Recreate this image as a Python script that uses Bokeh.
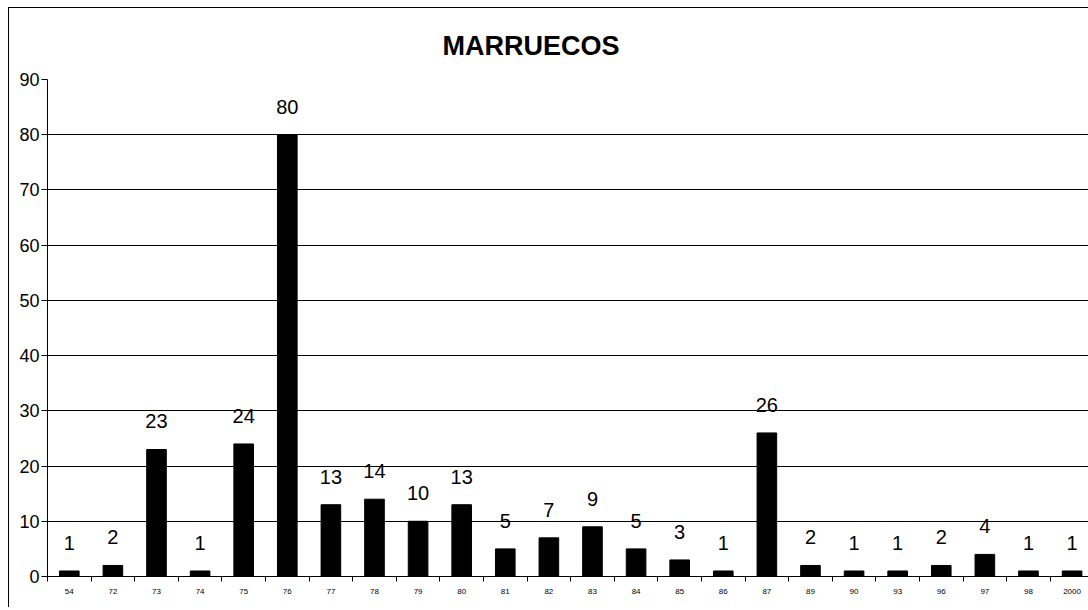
from bokeh.plotting import figure
from bokeh.models import ColumnDataSource, Range1d, FixedTicker, LabelSet, Title
from bokeh.core.properties import value
from bokeh.embed import file_html
from bokeh.resources import INLINE

years = ["54", "72", "73", "74", "75", "76", "77", "78", "79", "80", "81", "82",
         "83", "84", "85", "86", "87", "89", "90", "93", "96", "97", "98", "2000"]
counts = [1, 2, 23, 1, 24, 80, 13, 14, 10, 13, 5, 7, 9, 5, 3, 1, 26, 2, 1, 1, 2, 4, 1, 1]
y_ticks = [0, 10, 20, 30, 40, 50, 60, 70, 80, 90]

n = len(years)
xs = [i + 0.5 for i in range(n)]
src = ColumnDataSource(dict(x=xs, y=counts, lbl=[str(c) for c in counts]))

p = figure(width=1080, height=600, output_backend="svg", toolbar_location=None,
           x_range=Range1d(0, 23.9), y_range=Range1d(0, 90),
           min_border_left=38, min_border_top=71, min_border_bottom=32, min_border_right=0)
p.styles = {"border-left": "1px solid black", "border-top": "1px solid black",
            "margin-left": "8px", "margin-top": "7px"}
p.outline_line_color = None
p.background_fill_color = "white"
p.border_fill_color = "white"

t = Title(text="MARRUECOS", align="left", text_font="Liberation Sans",
          text_font_size="27px", text_font_style="bold", text_color="black",
          offset=395, standoff=38)
p.add_layout(t, "above")

p.vbar(x="x", top="y", width=0.45, bottom=0, source=src, fill_color="black",
       line_color="black")

labels = LabelSet(x="x", y="y", text="lbl", source=src, text_align="center",
                  text_baseline="bottom", y_offset=21, text_font=value("Liberation Sans"),
                  text_font_size=value("20px"), text_color="black")
p.add_layout(labels)

# x axis
p.xaxis.ticker = FixedTicker(ticks=xs, minor_ticks=list(range(n + 1)))
p.xaxis.major_label_overrides = {x: y for x, y in zip(xs, years)}
p.xaxis.major_tick_out = 0
p.xaxis.major_tick_in = 0
p.xaxis.minor_tick_out = 5
p.xaxis.minor_tick_in = 0
p.xaxis.minor_tick_line_color = "black"
p.xaxis.major_label_text_font = "Liberation Sans"
p.xaxis.major_label_text_font_size = "8px"
p.xaxis.major_label_text_color = "black"
p.xaxis.major_label_standoff = 7
p.xaxis.axis_line_color = "black"
p.xgrid.grid_line_color = None

# y axis
p.yaxis.ticker = FixedTicker(ticks=y_ticks, minor_ticks=[])
p.yaxis.major_tick_out = 6
p.yaxis.major_tick_in = 0
p.yaxis.major_tick_line_color = "black"
p.yaxis.major_label_text_font = "Liberation Sans"
p.yaxis.major_label_text_font_size = "18px"
p.yaxis.major_label_text_color = "black"
p.yaxis.major_label_standoff = 2
p.yaxis.axis_line_color = "black"
p.ygrid.grid_line_color = "black"
p.ygrid.grid_line_width = 1

open("out.html", "w").write(file_html(p, INLINE))
